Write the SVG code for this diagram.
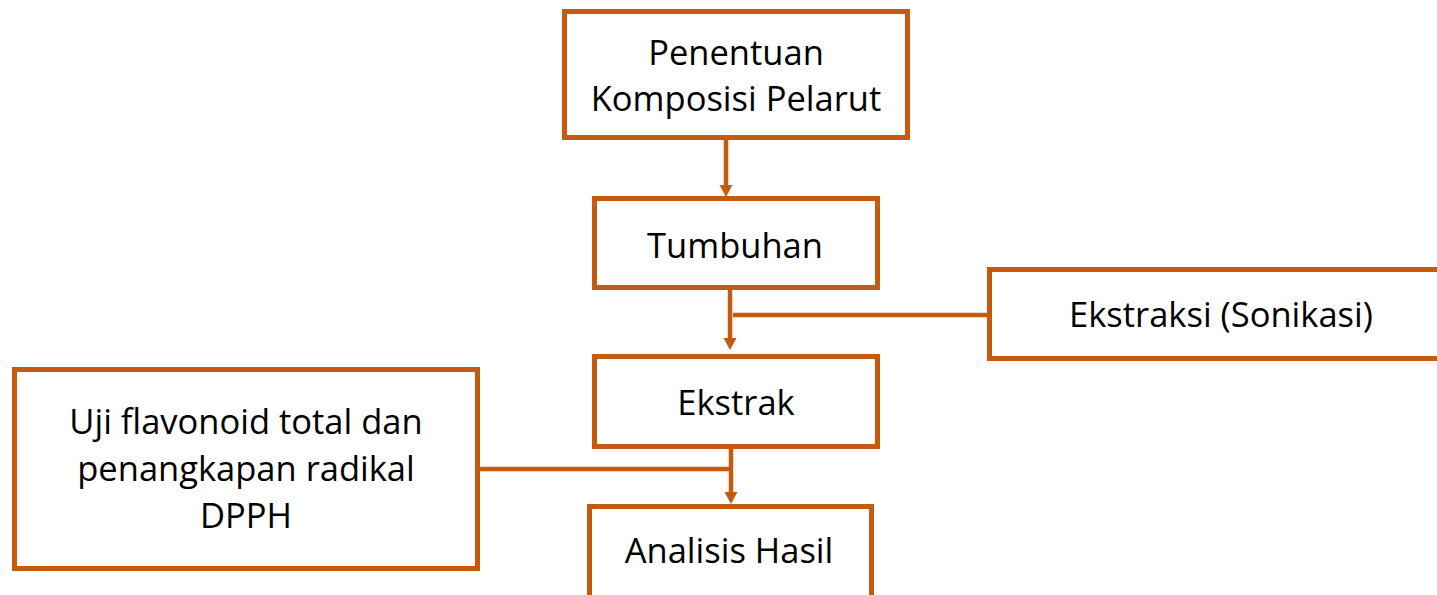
<svg xmlns="http://www.w3.org/2000/svg" width="1437" height="595" viewBox="0 0 1437 595">
<style>
.box{fill:#fff;stroke:#C55A11;stroke-width:5}
.ln{fill:none;stroke:#C55A11;stroke-width:4.5}
.t{font-family:"Open Sans","Noto Sans","Liberation Sans",sans-serif;font-size:34.5px;fill:#000;text-anchor:middle}
</style>
<defs>
<marker id="ah" markerUnits="userSpaceOnUse" markerWidth="14" markerHeight="14" refX="0" refY="6.5" orient="auto" overflow="visible">
<path d="M0,0 L12,6.5 L0,13 z" fill="#C55A11"/>
</marker>
</defs>
<rect width="1437" height="595" fill="#fff"/>
<g id="connectors">
<path class="ln" d="M726,140 V185" marker-end="url(#ah)"/>
<path class="ln" d="M730,290 V338" marker-end="url(#ah)"/>
<path class="ln" d="M733,315 H988"/>
<path class="ln" d="M731,449 V492" marker-end="url(#ah)"/>
<path class="ln" d="M479,469 H731"/>
</g>
<g id="n1">
<rect class="box" x="564.5" y="11.5" width="343" height="126"/>
<text class="t" x="736" y="65">Penentuan</text>
<text class="t" x="736" y="111">Komposisi Pelarut</text>
</g>
<g id="n2">
<rect class="box" x="594.5" y="198.5" width="283" height="89"/>
<text class="t" x="735" y="258">Tumbuhan</text>
</g>
<g id="n3">
<rect class="box" x="594.5" y="356.5" width="283" height="90"/>
<text class="t" x="736" y="415">Ekstrak</text>
</g>
<g id="n4">
<rect class="box" x="589.5" y="506.5" width="282" height="100"/>
<text class="t" x="729" y="563">Analisis Hasil</text>
</g>
<g id="n5">
<rect class="box" x="989.5" y="269.5" width="460" height="89"/>
<text class="t" x="1221" y="327">Ekstraksi (Sonikasi)</text>
</g>
<g id="n6">
<rect class="box" x="14.5" y="369.5" width="463" height="199"/>
<text class="t" x="246" y="434">Uji flavonoid total dan</text>
<text class="t" x="246" y="481">penangkapan radikal</text>
<text class="t" x="246" y="528">DPPH</text>
</g>
</svg>
